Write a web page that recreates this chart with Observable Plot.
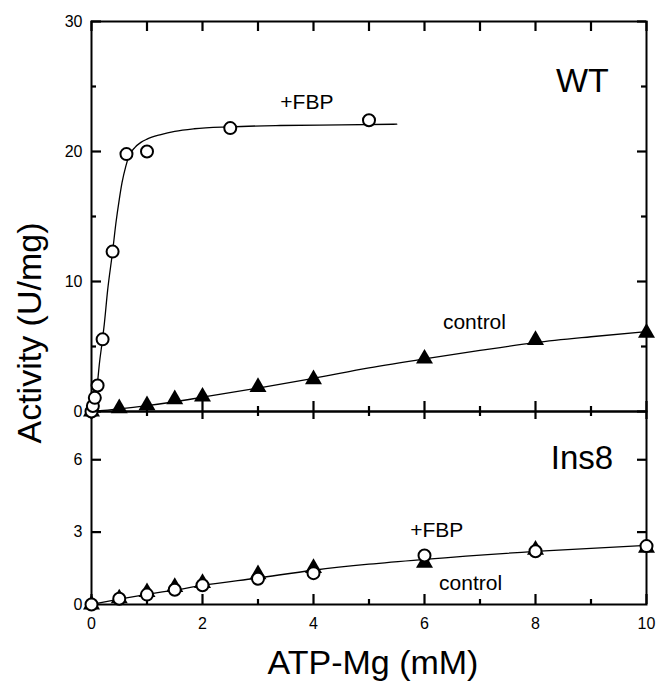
<!DOCTYPE html>
<html>
<head>
<meta charset="utf-8">
<script src="https://cdn.jsdelivr.net/npm/d3@7"></script>
<script src="https://cdn.jsdelivr.net/npm/@observablehq/plot@0.6"></script>
<style>
  html, body { margin: 0; padding: 0; background: white; }
  #chart { position: relative; width: 659px; height: 681px; font-family: "Liberation Sans", Arial, Helvetica, sans-serif; color: black; }
  #chart svg { position: absolute; left: 0; top: 0; }
  .title { position: absolute; white-space: nowrap; line-height: 1; color: black; }
</style>
</head>
<body>
<div id="chart"></div>
<script>
// ---------- data ----------
// WT panel
const wtFbpX = [0, 0.025, 0.06, 0.11, 0.2, 0.38, 0.63, 1.0, 2.5, 5.0];
const wtFbpY = [0, 0.42, 1.05, 2.0, 5.55, 12.3, 19.8, 20.0, 21.8, 22.4];
const wtCtrlX = [0, 0.5, 1, 1.5, 2, 3, 4, 6, 8, 10];
const wtCtrlY = [0, 0.25, 0.48, 0.94, 1.14, 1.88, 2.48, 4.06, 5.5, 6.05];
// fitted curves as drawn
const wtFbpFitX = [0, 0.05, 0.11, 0.14, 0.2, 0.23, 0.29, 0.38, 0.44, 0.5, 0.55, 0.62, 0.67, 0.78, 0.89, 1.0, 1.25, 1.5, 1.85, 2.5, 3.4, 4.5, 5.5];
const wtFbpFitY = [0, 0.8, 2.3, 3.6, 5.6, 6.7, 9.3, 12.3, 14.5, 16.3, 17.6, 18.9, 19.6, 20.3, 20.7, 20.95, 21.3, 21.55, 21.75, 21.9, 22.0, 22.05, 22.1];
const wtCtrlFitX = [0, 0.5, 1, 1.5, 2, 3, 4, 5, 6, 7, 8, 9, 10];
const wtCtrlFitY = [0, 0.2, 0.45, 0.75, 1.1, 1.8, 2.55, 3.35, 4.05, 4.7, 5.3, 5.75, 6.15];

// Ins8 panel
const insX = [0, 0.5, 1, 1.5, 2, 3, 4, 6, 8, 10];
const insFbpY = [0, 0.24, 0.41, 0.61, 0.8, 1.07, 1.3, 2.03, 2.21, 2.42];
const insCtrlY = [0, 0.25, 0.51, 0.72, 0.89, 1.25, 1.51, 1.73, 2.27, 2.35];
const insFitX = [0, 0.5, 1, 1.5, 2, 3, 4, 5, 6, 8, 10];
const insFitY = [0, 0.22, 0.42, 0.6, 0.79, 1.1, 1.42, 1.67, 1.87, 2.2, 2.45];

// ticks
const xMajor = [0, 2, 4, 6, 8, 10];
const xMinor = [1, 3, 5, 7, 9];
const xAll = [0, 1, 2, 3, 4, 5, 6, 7, 8, 9, 10];
const wtYMajor = [0, 10, 20, 30];
const wtYMinor = [5, 15, 25];
const insYLabels = [0, 3, 6];
const insYTicks = [3, 6];

// annotations (data coordinates)
const wtLabels = [
  {text: "+FBP", x: 3.88, y: 23.75, size: 21, anchor: "middle"},
  {text: "control", x: 6.9, y: 6.9, size: 21, anchor: "middle"},
  {text: "WT", x: 9.32, y: 25.4, size: 34, anchor: "end"}
];
const insLabels = [
  {text: "Ins8", x: 9.4, y: 6.04, size: 33, anchor: "end"},
  {text: "+FBP", x: 6.22, y: 3.09, size: 21, anchor: "middle"},
  {text: "control", x: 6.83, y: 0.9, size: 21, anchor: "middle"}
];
const xTitle = "ATP-Mg (mM)";
const yTitle = "Activity (U/mg)";

// ---------- build tables ----------
const zip = (xs, ys) => xs.map((x, i) => ({x, y: ys[i]}));
const wtFbp = zip(wtFbpX, wtFbpY);
const wtCtrl = zip(wtCtrlX, wtCtrlY);
const wtFbpFit = zip(wtFbpFitX, wtFbpFitY);
const wtCtrlFit = zip(wtCtrlFitX, wtCtrlFitY);
const insFbp = zip(insX, insFbpY);
const insCtrl = zip(insX, insCtrlY);
const insFit = zip(insFitX, insFitY);

const FONT = "'Liberation Sans', Arial, Helvetica, sans-serif";
const W = 659, H = 681;
const ML = 91, MR = 13;
const FW = W - ML - MR;               // frame width
const common = {
  width: W, height: H, marginLeft: ML, marginRight: MR,
  style: {background: "transparent", overflow: "visible", fontFamily: FONT, fontSize: "16px", color: "black"}
};
const TS = {stroke: "black", strokeWidth: 2.2};
const id = d => d;
// inward tick helpers (frame height fh)
const ticksTop = (v, len, fh) => Plot.tickX(v, {x: id, insetBottom: fh - len, ...TS});
const ticksBottom = (v, len, fh) => Plot.tickX(v, {x: id, insetTop: fh - len, ...TS});
const ticksLeft = (v, len) => Plot.tickY(v, {y: id, insetRight: FW - len, ...TS});
const ticksRight = (v, len) => Plot.tickY(v, {y: id, insetLeft: FW - len, ...TS});

function labelMarks(arr) {
  return ["middle", "end"].flatMap(a => {
    const d = arr.filter(l => l.anchor === a);
    return [...new Set(d.map(l => l.size))].map(s =>
      Plot.text(d.filter(l => l.size === s), {x: "x", y: "y", text: "text", textAnchor: a, fontSize: s, fill: "black"})
    );
  });
}

const T_TOP = 21, T_BOT = 411, B_BOT = 604;
const FH1 = T_BOT - T_TOP, FH2 = B_BOT - T_BOT;

const topPlot = Plot.plot({
  ...common,
  marginTop: T_TOP, marginBottom: H - T_BOT,
  x: {domain: [0, 10], label: null, axis: null},
  y: {domain: [0, 30], label: null},
  marks: [
    Plot.axisY(wtYMajor, {anchor: "left", tickSize: 0, tickPadding: 9, fontSize: 16, label: null}),
    ticksLeft(wtYMajor, 10),
    ticksLeft(wtYMinor, 5),
    ticksRight(wtYMajor, 9),
    ticksRight(wtYMinor, 5),
    ticksTop(xAll, 10, FH1),
    ticksBottom(xMajor, 10, FH1),
    ticksBottom(xMinor, 5, FH1),
    Plot.frame({stroke: "black", strokeWidth: 2}),
    Plot.line(wtFbpFit, {x: "x", y: "y", curve: "monotone-x", stroke: "black", strokeWidth: 1.3}),
    Plot.line(wtCtrlFit, {x: "x", y: "y", curve: "monotone-x", stroke: "black", strokeWidth: 1.3}),
    Plot.dot(wtCtrl, {x: "x", y: "y", symbol: "triangle", fill: "black", r: 6.3}),
    Plot.dot(wtFbp, {x: "x", y: "y", symbol: "circle", fill: "white", stroke: "black", strokeWidth: 2, r: 6}),
    ...labelMarks(wtLabels)
  ]
});

const bottomPlot = Plot.plot({
  ...common,
  marginTop: T_BOT, marginBottom: H - B_BOT,
  x: {domain: [0, 10], label: null},
  y: {domain: [0, 8], label: null},
  marks: [
    Plot.axisY(insYLabels, {anchor: "left", tickSize: 0, tickPadding: 9, fontSize: 16, label: null}),
    ticksLeft(insYTicks, 10),
    ticksRight(insYTicks, 9),
    ticksTop(xMajor, 8, FH2),
    ticksTop(xMinor, 5, FH2),
    ticksBottom(xMajor, 10, FH2),
    ticksBottom(xMinor, 5, FH2),
    Plot.axisX(xMajor, {anchor: "bottom", tickSize: 0, tickPadding: 13, fontSize: 16, label: null}),
    Plot.frame({stroke: "black", strokeWidth: 2}),
    Plot.line(insFit, {x: "x", y: "y", curve: "monotone-x", stroke: "black", strokeWidth: 1.3}),
    Plot.dot(insCtrl, {x: "x", y: "y", symbol: "triangle", fill: "black", r: 6.3}),
    Plot.dot(insFbp, {x: "x", y: "y", symbol: "circle", fill: "white", stroke: "black", strokeWidth: 2, r: 6}),
    ...labelMarks(insLabels)
  ]
});

const chart = document.getElementById("chart");
chart.appendChild(bottomPlot);
chart.appendChild(topPlot);

const xt = document.createElement("div");
xt.className = "title";
xt.textContent = xTitle;
xt.style.cssText += "font-size:34px; left:373px; top:662px; transform:translate(-50%,-50%);";
chart.appendChild(xt);

const yt = document.createElement("div");
yt.className = "title";
yt.textContent = yTitle;
yt.style.cssText += "font-size:34px; left:29px; top:333px; transform:translate(-50%,-50%) rotate(-90deg);";
chart.appendChild(yt);
</script>
</body>
</html>
